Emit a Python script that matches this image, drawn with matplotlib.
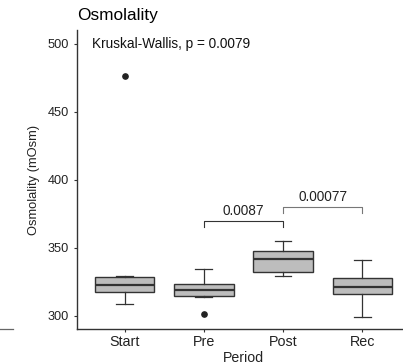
import matplotlib
matplotlib.use('Agg')
import matplotlib.pyplot as plt
from matplotlib.lines import Line2D

plt.rcParams['font.family'] = ['Liberation Sans', 'DejaVu Sans']

periods = ['Start', 'Pre', 'Post', 'Rec']
whislo = [308.6, 313.5, 329.2, 298.8]
q1 = [317.6, 314.3, 332.4, 315.7]
med = [322.6, 318.9, 341.5, 321.3]
q3 = [328.7, 323.3, 347.8, 327.9]
whishi = [329.4, 334.3, 354.9, 341.0]
fliers = [[476.3], [301.5], [], []]

kw_text = 'Kruskal-Wallis, p = 0.0079'
pairs = [(2, 3, 369.8, '0.0087'), (3, 4, 380.0, '0.00077')]

edge = '#333333'

def draw_bracket(ax, x1, x2, y, label, color):
    ax.plot([x1, x1, x2, x2], [y - 4.7, y, y, y - 4.7], color=color, lw=0.8)
    ax.text((x1 + x2) / 2, y + 2.2, label, ha='center', va='bottom',
            fontsize=9.8, color='#222222')

fig = plt.figure(figsize=(4.03, 3.64), dpi=100)
ax = fig.add_axes([0.191, 0.0962, 0.826, 0.8214])

stats = []
for i in range(len(periods)):
    stats.append(dict(whislo=whislo[i], q1=q1[i], med=med[i], q3=q3[i],
                      whishi=whishi[i], fliers=fliers[i], label=periods[i]))

ax.bxp(stats, positions=range(1, 5), widths=0.75, patch_artist=True,
       boxprops=dict(facecolor='#bdbdbd', edgecolor=edge, linewidth=1.0),
       medianprops=dict(color=edge, linewidth=1.6),
       whiskerprops=dict(color=edge, linewidth=0.9),
       capprops=dict(color=edge, linewidth=0.9),
       capwidths=0.21,
       flierprops=dict(marker='o', markerfacecolor='#222222', markeredgecolor='#222222',
                       markersize=3.8))

draw_bracket(ax, pairs[0][0], pairs[0][1], pairs[0][2], pairs[0][3], '#333333')
draw_bracket(ax, pairs[1][0], pairs[1][1], pairs[1][2], pairs[1][3], '#777777')

ax.text(0.59, 500, kw_text, ha='left', va='center', fontsize=9.8, color='#111111')

ax.set_xlim(0.4, 4.6)
ax.set_ylim(290.2, 510)
ax.set_yticks([300, 350, 400, 450, 500])
ax.set_xticks(range(1, 5))
ax.set_xticklabels(periods)
ax.tick_params(axis='x', labelsize=10.3, colors='#333333', length=2.5, width=0.8, pad=2)
ax.tick_params(axis='y', labelsize=9.2, colors='#333333', length=2.5, width=0.8, pad=3.5)
for lab in ax.get_xticklabels() + ax.get_yticklabels():
    lab.set_color('#222222')

for s in ['top', 'right']:
    ax.spines[s].set_visible(False)
for s in ['left', 'bottom']:
    ax.spines[s].set_color('#333333')
    ax.spines[s].set_linewidth(1.0)

ax.set_xlabel('Period', fontsize=10.2, color='#222222', labelpad=1.2)
ax.set_ylabel('Osmolality (mOsm)', fontsize=9.3, color='#222222', labelpad=5.5)
ax.set_title('Osmolality', loc='left', fontsize=12.4, pad=7)

# stray line from neighbouring panel at the left edge
fig.add_artist(Line2D([0, 13 / 403], [0.0962, 0.0962], color='#666666', lw=0.9))

fig.savefig('out.png', dpi=100)
